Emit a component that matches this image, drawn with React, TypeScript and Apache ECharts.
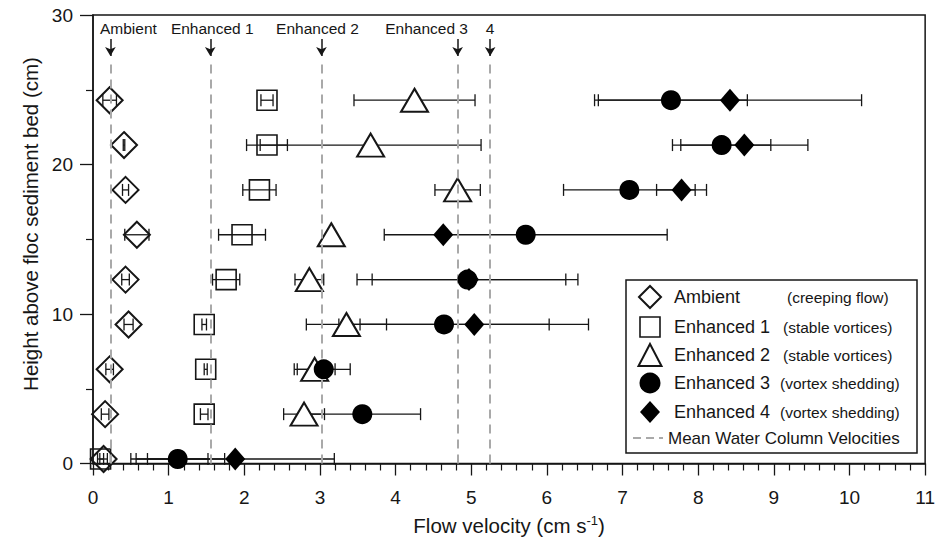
import React, { useEffect, useRef } from "react";
import * as echarts from "echarts";

// Heights above the floc sediment bed (cm)
const heights = [0.3, 3.3, 6.3, 9.3, 12.3, 15.3, 18.3, 21.3, 24.3];

// Flow velocities (cm/s) and symmetric error half-widths per height
const ambientX = [0.14, 0.16, 0.22, 0.47, 0.43, 0.58, 0.43, 0.41, 0.22];
const ambientErr = [0.05, 0.05, 0.05, 0.06, 0.05, 0.16, 0.04, 0.01, 0.09];

const enh1X = [0.1, 1.47, 1.49, 1.47, 1.76, 1.97, 2.2, 2.3, 2.3];
const enh1Err = [0.04, 0.05, 0.02, 0.03, 0.18, 0.31, 0.22, 0.27, 0.08];

const enh2X = [null, 2.79, 2.93, 3.35, 2.86, 3.15, 4.82, 3.67, 4.25];
const enh2Err = [null, 0.27, 0.27, 0.53, 0.19, 0.02, 0.3, 1.46, 0.8];

const enh3X = [1.12, 3.56, 3.05, 4.64, 4.95, 5.72, 7.09, 8.31, 7.64];
const enh3Err = [0.4, 0.77, 0.35, 1.39, 1.46, 1.87, 0.87, 0.65, 1.01];
const enh3Err2 = [0.62, null, null, null, null, null, null, null, null];

const enh4X = [1.88, null, null, 5.04, 4.97, 4.63, 7.78, 8.61, 8.42];
const enh4Err = [1.31, null, null, 1.51, 1.28, 0.05, 0.33, 0.84, 1.74];

// Mean water column velocities (dashed lines) and their labels
const meanVelocities = [0.23, 1.55, 3.02, 4.82, 5.25];
const meanLabels = ["Ambient", "Enhanced 1", "Enhanced 2", "Enhanced 3", "4"];

// Legend entries
const legendNames = ["Ambient", "Enhanced 1", "Enhanced 2", "Enhanced 3", "Enhanced 4"];
const legendNotes = ["(creeping flow)", "(stable vortices)", "(stable vortices)", "(vortex shedding)", "(vortex shedding)"];
const legendLast = "Mean Water Column Velocities";

const FONT = "'Liberation Sans', Arial, Helvetica, sans-serif";
const INK = "#161616";
const DASH = "#a9a9a9";

type Num = number | null;

function ptData(xs: Num[]) {
  const out: number[][] = [];
  heights.forEach((h, i) => {
    const x = xs[i];
    if (x != null) out.push([x, h]);
  });
  return out;
}

function errData(xs: Num[], errs: Num[]) {
  const out: number[][] = [];
  heights.forEach((h, i) => {
    const x = xs[i];
    const e = errs[i];
    if (x != null && e != null) out.push([h, x - e, x + e]);
  });
  return out;
}

const errRender = (params: any, api: any) => {
  const y = api.value(0);
  const lo = api.value(1);
  const hi = api.value(2);
  const p1 = api.coord([lo, y]);
  const p2 = api.coord([hi, y]);
  const h = 6;
  const style = { stroke: INK, lineWidth: 1.3 };
  return {
    type: "group",
    children: [
      { type: "line", shape: { x1: p1[0], y1: p1[1], x2: p2[0], y2: p2[1] }, style },
      { type: "line", shape: { x1: p1[0], y1: p1[1] - h, x2: p1[0], y2: p1[1] + h }, style },
      { type: "line", shape: { x1: p2[0], y1: p2[1] - h, x2: p2[0], y2: p2[1] + h }, style },
    ],
  };
};

function errSeries(data: number[][]) {
  return {
    type: "custom",
    renderItem: errRender,
    data,
    encode: { x: [1, 2], y: 0 },
    z: 2,
    silent: true,
  };
}

export default function App() {
  const ref = useRef<HTMLDivElement>(null);

  useEffect(() => {
    if (!ref.current) return;
    const chart = echarts.init(ref.current, null, { renderer: "svg" });

    const markLineData = meanVelocities.map((v) => [
      { coord: [v, 0] },
      { coord: [v, 26.9] },
    ]);
    const arrowData = meanVelocities.map((v) => [
      { coord: [v, 28.4] },
      { coord: [v, 27.25] },
    ]);

    const option: any = {
      animation: false,
      backgroundColor: "#ffffff",
      grid: {
        left: 93,
        right: 10,
        top: 15,
        bottom: 77,
        show: true,
        borderColor: INK,
        borderWidth: 1.5,
        backgroundColor: "transparent",
      },
      xAxis: {
        type: "value",
        min: 0,
        max: 11,
        interval: 1,
        name: "Flow velocity (cm s{sup|-1})",
        nameLocation: "middle",
        nameGap: 50,
        nameTextStyle: {
          fontFamily: FONT,
          fontSize: 20.5,
          color: INK,
          rich: {
            sup: { fontFamily: FONT, fontSize: 13, color: INK, verticalAlign: "top", padding: [0, 0, 11, 0] },
          },
        },
        axisLine: { show: true, onZero: false, lineStyle: { color: INK, width: 1.5 } },
        axisTick: { show: true, inside: false, length: 12, lineStyle: { color: INK, width: 1.3 } },
        minorTick: { show: true, splitNumber: 5, length: 7, lineStyle: { color: INK, width: 1.2 } },
        axisLabel: { fontFamily: FONT, fontSize: 19, color: INK, margin: 24 },
        splitLine: { show: false },
      },
      yAxis: {
        type: "value",
        min: 0,
        max: 30,
        interval: 10,
        axisLine: { show: true, onZero: false, lineStyle: { color: INK, width: 1.5 } },
        axisTick: { show: true, inside: false, length: 13, lineStyle: { color: INK, width: 1.3 } },
        minorTick: { show: true, splitNumber: 2, length: 7, lineStyle: { color: INK, width: 1.2 } },
        axisLabel: { fontFamily: FONT, fontSize: 19, color: INK, margin: 20 },
        splitLine: { show: false },
      },
      series: [
        {
          type: "scatter",
          name: "Mean Water Column Velocities",
          data: [],
          silent: true,
          z: 1,
          markLine: {
            silent: true,
            symbol: ["none", "none"],
            label: { show: false },
            lineStyle: { color: DASH, width: 2, type: [9, 6], opacity: 1 },
            data: markLineData,
          },
        },
        {
          type: "scatter",
          name: "arrows",
          data: [],
          silent: true,
          z: 1,
          markLine: {
            silent: true,
            symbol: ["none", "arrow"],
            symbolSize: [8, 9],
            label: { show: false },
            lineStyle: { color: INK, width: 1.5, type: "solid", opacity: 1 },
            data: arrowData,
          },
        },
        errSeries(errData(ambientX, ambientErr)),
        errSeries(errData(enh1X, enh1Err)),
        errSeries(errData(enh2X, enh2Err)),
        errSeries(errData(enh3X, enh3Err)),
        errSeries(errData(enh3X, enh3Err2)),
        errSeries(errData(enh4X, enh4Err)),
        {
          type: "scatter",
          name: "Ambient",
          data: ptData(ambientX),
          symbol: "diamond",
          symbolSize: [26, 26],
          itemStyle: { color: "rgba(255,255,255,0)", borderColor: INK, borderWidth: 2, opacity: 1 },
          z: 3,
        },
        {
          type: "scatter",
          name: "Enhanced 1",
          data: ptData(enh1X),
          symbol: "rect",
          symbolSize: [20, 20],
          itemStyle: { color: "rgba(255,255,255,0)", borderColor: INK, borderWidth: 1.6, opacity: 1 },
          z: 3,
        },
        {
          type: "scatter",
          name: "Enhanced 2",
          data: ptData(enh2X),
          symbol: "triangle",
          symbolSize: [27, 23],
          itemStyle: { color: "#ffffff", borderColor: INK, borderWidth: 2, opacity: 1 },
          z: 4,
        },
        {
          type: "scatter",
          name: "Enhanced 3",
          data: ptData(enh3X),
          symbol: "circle",
          symbolSize: 20,
          itemStyle: { color: "#000000", opacity: 1 },
          z: 5,
        },
        {
          type: "scatter",
          name: "Enhanced 4",
          data: ptData(enh4X),
          symbol: "diamond",
          symbolSize: [20, 23],
          itemStyle: { color: "#000000", opacity: 1 },
          z: 5,
        },
      ],
    };

    chart.setOption(option);

    // Annotations placed with the chart's own scale
    const labelOffsets = [18, 2, -4, -31, 0];
    const graphics: any[] = [];
    meanVelocities.forEach((v, i) => {
      const p = chart.convertToPixel({ gridIndex: 0 }, [v, 30]) as number[];
      graphics.push({
        type: "text",
        x: p[0] + labelOffsets[i],
        y: 28,
        style: {
          text: meanLabels[i],
          fontFamily: FONT,
          fontSize: 15.5,
          fill: INK,
          align: "center",
          verticalAlign: "middle",
        },
        z: 10,
      });
    });

    // Y-axis title
    graphics.push({
      type: "text",
      x: 30,
      y: 224,
      rotation: Math.PI / 2,
      style: {
        text: "Height above floc sediment bed (cm)",
        fontFamily: FONT,
        fontSize: 20.5,
        fill: INK,
        align: "center",
        verticalAlign: "middle",
      },
    });

    // Legend box
    const lx = 626, ly = 280, lw = 291, lh = 173;
    const rows = [297, 327, 355, 383, 412, 438];
    const mx = 650;
    const noteX = [787, 783, 783, 780, 780];
    const legendChildren: any[] = [
      {
        type: "rect",
        shape: { x: lx, y: ly, width: lw, height: lh },
        style: { fill: "#ffffff", stroke: INK, lineWidth: 1.5 },
      },
      {
        type: "polygon",
        shape: { points: [[mx - 11, rows[0]], [mx, rows[0] - 11], [mx + 11, rows[0]], [mx, rows[0] + 11]] },
        style: { fill: "#ffffff", stroke: INK, lineWidth: 2 },
      },
      {
        type: "rect",
        shape: { x: mx - 10, y: rows[1] - 10, width: 20, height: 20 },
        style: { fill: "#ffffff", stroke: INK, lineWidth: 1.6 },
      },
      {
        type: "polygon",
        shape: { points: [[mx, rows[2] - 11], [mx + 11.5, rows[2] + 11], [mx - 11.5, rows[2] + 11]] },
        style: { fill: "#ffffff", stroke: INK, lineWidth: 2 },
      },
      {
        type: "circle",
        shape: { cx: mx, cy: rows[3], r: 10.5 },
        style: { fill: "#000000" },
      },
      {
        type: "polygon",
        shape: { points: [[mx - 10, rows[4]], [mx, rows[4] - 11], [mx + 10, rows[4]], [mx, rows[4] + 11]] },
        style: { fill: "#000000" },
      },
      {
        type: "line",
        shape: { x1: 633, y1: rows[5], x2: 663, y2: rows[5] },
        style: { stroke: DASH, lineWidth: 2, lineDash: [8, 5] },
      },
    ];
    legendNames.forEach((n, i) => {
      legendChildren.push({
        type: "text",
        x: 674,
        y: rows[i],
        style: { text: n, fontFamily: FONT, fontSize: 18, fill: INK, verticalAlign: "middle", align: "left" },
      });
      legendChildren.push({
        type: "text",
        x: noteX[i],
        y: rows[i],
        style: { text: legendNotes[i], fontFamily: FONT, fontSize: 15.5, fill: INK, verticalAlign: "middle", align: "left" },
      });
    });
    legendChildren.push({
      type: "text",
      x: 668,
      y: rows[5],
      style: { text: legendLast, fontFamily: FONT, fontSize: 17, fill: INK, verticalAlign: "middle", align: "left" },
    });
    graphics.push({ type: "group", z: 20, children: legendChildren });

    chart.setOption({ graphic: graphics });

    return () => {
      chart.dispose();
    };
  }, []);

  return (
    <div
      ref={ref}
      style={{ position: "fixed", left: 0, top: 0, width: 938, height: 541, background: "#fff" }}
    />
  );
}
